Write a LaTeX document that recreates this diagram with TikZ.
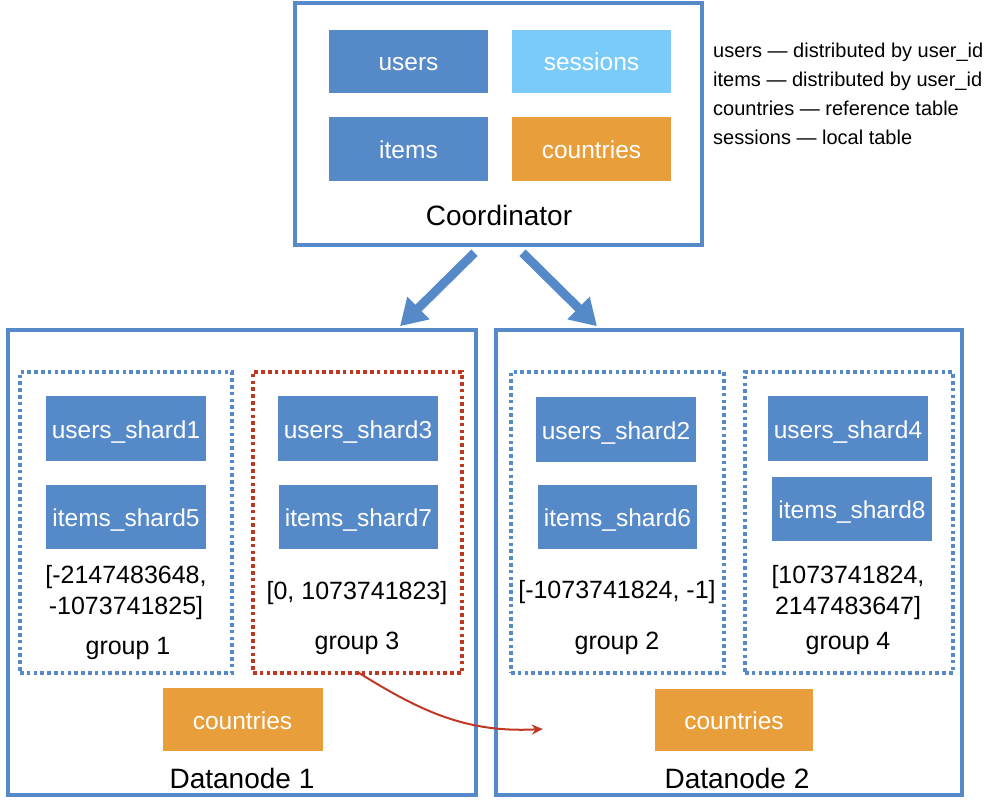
\documentclass[tikz,border=0pt]{standalone}
\usepackage{fontspec}
\setmainfont{Liberation Sans}
\usetikzlibrary{arrows.meta}
\definecolor{blueC}{RGB}{86,137,200}
\definecolor{lightC}{RGB}{122,203,250}
\definecolor{orangeC}{RGB}{232,158,58}
\definecolor{redC}{RGB}{192,56,36}
\tikzset{
  tbl/.style={fill=blueC, text=white, font=\fontsize{24.5}{28}\selectfont, inner sep=0pt, text height=20pt, text depth=1pt, minimum width=160, minimum height=64},
  frame/.style={draw=blueC, line width=3.5pt, inner sep=0pt},
  grp/.style={draw=blueC, line width=4pt, dash pattern=on 3.6pt off 3.2pt, inner sep=0pt},
  rng/.style={font=\fontsize{25}{31}\selectfont, align=center, inner sep=0pt},
  lbl/.style={font=\fontsize{25}{30}\selectfont, inner sep=0pt},
  title/.style={font=\fontsize{28}{32}\selectfont, inner sep=0pt},
  bigarrow/.style={draw=blueC, line width=9pt, -{Triangle[width=30pt,length=26pt]}},
  redarrow/.style={draw=redC, line width=2pt, -{Stealth[width=10pt,length=11pt]}}
}
\begin{document}
\begin{tikzpicture}[x=1pt,y=-1pt]
\useasboundingbox (0,0) rectangle (1005,808);
% Coordinator
\node[frame, minimum width=407, minimum height=242] (coord) at (498.5,124) {};
\node[tbl, minimum width=159, minimum height=63] (users) at (408.5,61.5) {users};
\node[tbl, fill=lightC, minimum width=159, minimum height=63] (sessions) at (591.5,61.5) {sessions};
\node[tbl, minimum width=159] (items) at (408.5,149) {items};
\node[tbl, fill=orangeC, minimum width=159] (countries) at (591.5,149) {countries};
\node[title] (coordlbl) at (499,215) {Coordinator};
% Legend
\node[anchor=west, align=left, inner sep=0pt, font=\fontsize{20}{29}\selectfont] (legend) at (713,94)
 {users — distributed by user\_id\\items — distributed by user\_id\\countries — reference table\\sessions — local table};
% Datanodes
\node[frame, minimum width=468, minimum height=465] (dn1) at (242,562.5) {};
\node[frame, minimum width=466, minimum height=465] (dn2) at (729,562.5) {};
% Groups
\node[grp, minimum width=212, minimum height=301] (g1) at (126,522.5) {};
\node[grp, draw=redC, minimum width=209, minimum height=301] (g3) at (357.5,522.5) {};
\node[grp, minimum width=213, minimum height=301] (g2) at (617.5,522.5) {};
\node[grp, minimum width=208, minimum height=301] (g4) at (849,522.5) {};
% Shards
\node[tbl, minimum height=65] (us1) at (126,428.5) {users\_shard1};
\node[tbl] (is5) at (126,516.5) {items\_shard5};
\node[tbl, minimum height=65] (us3) at (358,428.5) {users\_shard3};
\node[tbl, minimum width=159] (is7) at (358.5,517) {items\_shard7};
\node[tbl, minimum height=65] (us2) at (616,429.5) {users\_shard2};
\node[tbl, minimum width=159] (is6) at (617.5,516.5) {items\_shard6};
\node[tbl, minimum height=65] (us4) at (848,428.5) {users\_shard4};
\node[tbl] (is8) at (852,509) {items\_shard8};
% Ranges
\node[rng] (r1) at (126,592.5) {[-2147483648,\\-1073741825]};
\node[rng] (r3) at (357,593) {[0, 1073741823]};
\node[rng] (r2) at (617,592) {[-1073741824, -1]};
\node[rng] (r4) at (848,593) {[1073741824,\\2147483647]};
\node[lbl] (gl1) at (128,648) {group 1};
\node[lbl] (gl3) at (357,643) {group 3};
\node[lbl] (gl2) at (617,643) {group 2};
\node[lbl] (gl4) at (848,643) {group 4};
% Countries
\node[tbl, fill=orangeC, minimum height=63] (cn1) at (242.5,719.5) {countries};
\node[tbl, fill=orangeC, minimum width=158, minimum height=62] (cn2) at (734,720) {countries};
\node[title] (dn1lbl) at (242,778) {Datanode 1};
\node[title] (dn2lbl) at (737,778) {Datanode 2};
% Arrows
\draw[bigarrow] ([shift={(-24,6)}]coord.south) -- ([shift={(158,-2)}]dn1.north);
\draw[bigarrow] ([shift={(24,6)}]coord.south) -- ([shift={(-132,-2)}]dn2.north);
\coordinate (redend) at ([shift={(-112,9)}]cn2.west);
\draw[redarrow] ([yshift=3]g3.south) to[out=-32, in=183] (redend);
\end{tikzpicture}
\end{document}
